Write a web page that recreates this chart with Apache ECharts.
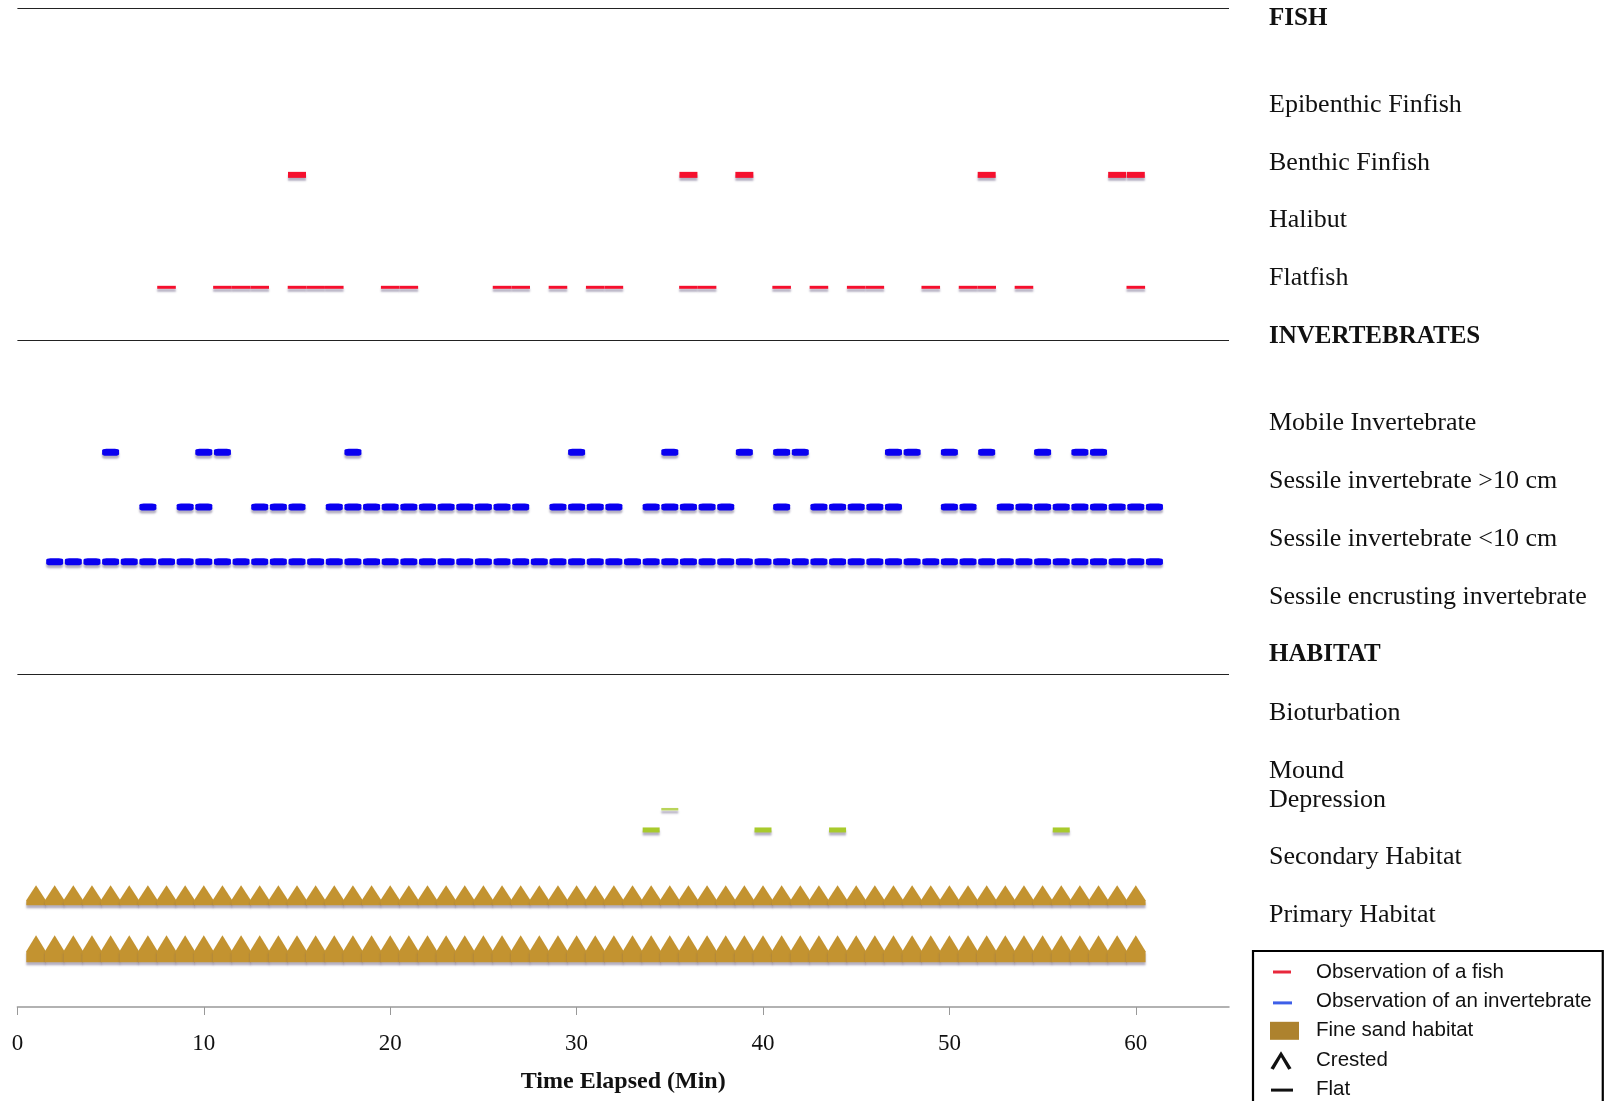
<!DOCTYPE html>
<html>
<head>
<meta charset="utf-8">
<script src="https://cdn.jsdelivr.net/npm/echarts@6/dist/echarts.min.js"></script>
<style>html,body{margin:0;padding:0;background:#fff;}#c{width:1606px;height:1101px;}</style>
</head>
<body>
<div id="c"></div>
<script>
// ---- data (minutes elapsed at which each observation was recorded) ----
const benthicFinfish = [15, 36, 39, 52, 59, 60];
const flatfish = [8, 11, 12, 13, 15, 16, 17, 20, 21, 26, 27, 29, 31, 32, 36, 37, 41, 43, 45, 46, 49, 51, 52, 54, 60];
const mobileInvertebrate = [5, 10, 11, 18, 30, 35, 39, 41, 42, 47, 48, 50, 52, 55, 57, 58];
const sessileOver10 = [7, 9, 10, 13, 14, 15, 17, 18, 19, 20, 21, 22, 23, 24, 25, 26, 27, 29, 30, 31, 32, 34, 35, 36, 37, 38, 41, 43, 44, 45, 46, 47, 50, 51, 53, 54, 55, 56, 57, 58, 59, 60, 61];
const sessileUnder10 = [2, 3, 4, 5, 6, 7, 8, 9, 10, 11, 12, 13, 14, 15, 16, 17, 18, 19, 20, 21, 22, 23, 24, 25, 26, 27, 28, 29, 30, 31, 32, 33, 34, 35, 36, 37, 38, 39, 40, 41, 42, 43, 44, 45, 46, 47, 48, 49, 50, 51, 52, 53, 54, 55, 56, 57, 58, 59, 60, 61];
const depressionUpper = [35];
const depressionLower = [34, 40, 44, 56];
const secondaryHabitat = [1, 2, 3, 4, 5, 6, 7, 8, 9, 10, 11, 12, 13, 14, 15, 16, 17, 18, 19, 20, 21, 22, 23, 24, 25, 26, 27, 28, 29, 30, 31, 32, 33, 34, 35, 36, 37, 38, 39, 40, 41, 42, 43, 44, 45, 46, 47, 48, 49, 50, 51, 52, 53, 54, 55, 56, 57, 58, 59, 60];
const primaryHabitat = [1, 2, 3, 4, 5, 6, 7, 8, 9, 10, 11, 12, 13, 14, 15, 16, 17, 18, 19, 20, 21, 22, 23, 24, 25, 26, 27, 28, 29, 30, 31, 32, 33, 34, 35, 36, 37, 38, 39, 40, 41, 42, 43, 44, 45, 46, 47, 48, 49, 50, 51, 52, 53, 54, 55, 56, 57, 58, 59, 60];

const rowLabels = ['FISH', 'Epibenthic Finfish', 'Benthic Finfish', 'Halibut', 'Flatfish',
  'INVERTEBRATES', 'Mobile Invertebrate', 'Sessile invertebrate >10 cm', 'Sessile invertebrate <10 cm', 'Sessile encrusting invertebrate',
  'HABITAT', 'Bioturbation', 'Mound', 'Depression', 'Secondary Habitat', 'Primary Habitat'];
const headerLabels = ['FISH', 'INVERTEBRATES', 'HABITAT'];
const xTickValues = [0, 10, 20, 30, 40, 50, 60];
const legendNames = ['Observation of a fish', 'Observation of an invertebrate', 'Fine sand habitat', 'Crested', 'Flat'];

// ---- layout (row positions on the hidden vertical scale, in row units) ----
const labelPos = [0.18, 1.68, 2.68, 3.68, 4.68, 5.7, 7.19, 8.2, 9.2, 10.21, 11.2, 12.23, 13.23, 13.73, 14.73, 15.73];
const sectionLines = [0, 5.75, 11.55];
const Y = { benthic: 2.89, flatfish: 4.84, mobile: 7.70, over10: 8.65, under10: 9.60,
  depU: 13.89, depL: 14.25, secondary: 15.38, primary: 16.31 };

const RED = '#F5102E', BLUE = '#0A00F0', BROWN = '#C39330', GREEN = '#A8CA2C';
const SERIF = "'Liberation Serif','Times New Roman',serif";
const shadow = { shadowColor: 'rgba(90,80,120,0.45)', shadowBlur: 2, shadowOffsetY: 3 };

function dashes(name, vals, y, color, size, symbol, extra) {
  return Object.assign({
    name: name, type: 'scatter', symbol: symbol || 'rect', symbolSize: size,
    data: vals.map(v => [v, y]), silent: true,
    itemStyle: Object.assign({ color: color, opacity: 1 }, shadow)
  }, extra || {});
}

const triUpper = 'path://M0,20 L0,15 L9.75,0 L19.5,15 L19.5,20 Z';
const triLower = 'path://M0,27 L0,16 L9.75,0 L19.5,16 L19.5,27 Z';
const BOX = 'M0,0 M41,22 ';

const series = [
  dashes('Observation of a fish', benthicFinfish, Y.benthic, RED, [18, 6]),
  dashes('Observation of a fish', flatfish, Y.flatfish, RED, [18.6, 3]),
  dashes('Observation of an invertebrate', mobileInvertebrate, Y.mobile, BLUE, [17, 7], 'roundRect'),
  dashes('Observation of an invertebrate', sessileOver10, Y.over10, BLUE, [17, 7], 'roundRect'),
  dashes('Observation of an invertebrate', sessileUnder10, Y.under10, BLUE, [17, 7], 'roundRect'),
  dashes('Depression', depressionUpper, Y.depU, '#B9D45A', [17, 2.5]),
  dashes('Depression', depressionLower, Y.depL, GREEN, [17, 5]),
  dashes('Fine sand habitat', secondaryHabitat, Y.secondary, BROWN, [19.5, 20], triUpper),
  dashes('Fine sand habitat', primaryHabitat, Y.primary, BROWN, [19.5, 27], triLower),
  { name: 'Crested', type: 'scatter', data: [], itemStyle: { color: '#000' } },
  { name: 'Flat', type: 'scatter', data: [], itemStyle: { color: '#000' },
    markLine: { silent: true, symbol: 'none', label: { show: false },
      lineStyle: { color: '#222', width: 1.2, type: 'solid' },
      data: sectionLines.map(v => ({ yAxis: v })) } }
];

const noShadow = { shadowColor: 'transparent', shadowBlur: 0, shadowOffsetY: 0 };
const legendIcons = [
  'path://' + BOX + 'M3,9.5 L21,9.5 L21,12.5 L3,12.5 Z',
  'path://' + BOX + 'M3,11 L22,11 L22,14 L3,14 Z',
  'path://' + BOX + 'M0,2 L29,2 L29,20 L0,20 Z',
  'path://' + BOX + 'M0.5,19 L11,2 L21.5,19 L18.3,20.5 L11,8 L3.7,20.5 Z',
  'path://' + BOX + 'M1,10 L23,10 L23,13 L1,13 Z'
];
const legendColors = ['#E8283C', '#3E5FE8', '#AD822E', '#111', '#111'];

const chart = echarts.init(document.getElementById('c'), null, { renderer: 'canvas' });
chart.setOption({
  animation: false,
  backgroundColor: '#fff',
  grid: { left: 17.4, right: 377, top: 8.2, bottom: 94, containLabel: false },
  xAxis: {
    type: 'value', min: 0, max: 65, interval: 10, position: 'bottom',
    name: 'Time Elapsed (Min)', nameLocation: 'middle', nameGap: 63,
    nameTextStyle: { fontFamily: SERIF, fontWeight: 'bold', fontSize: 24, color: '#111' },
    axisLine: { show: true, onZero: false, lineStyle: { color: '#999', width: 1.5 } },
    axisTick: { show: true, length: 8, customValues: xTickValues, lineStyle: { color: '#999', width: 1 } },
    axisLabel: { customValues: xTickValues, margin: 25, fontFamily: SERIF, fontSize: 23, color: '#111' },
    splitLine: { show: false }
  },
  yAxis: {
    type: 'value', position: 'right', inverse: true, min: 0, max: 17.32,
    axisLine: { show: false }, axisTick: { show: false }, splitLine: { show: false },
    axisLabel: {
      customValues: labelPos, margin: 40, align: 'left',
      formatter: function (v) {
        let idx = 0;
        for (let i = 0; i < labelPos.length; i++) if (Math.abs(labelPos[i] - v) < 1e-6) idx = i;
        const t = rowLabels[idx];
        return headerLabels.indexOf(t) >= 0 ? '{h|' + t + '}' : '{n|' + t + '}';
      },
      rich: {
        h: { fontFamily: SERIF, fontWeight: 'bold', fontSize: 25, color: '#111' },
        n: { fontFamily: SERIF, fontSize: 26, color: '#111' }
      }
    }
  },
  legend: {
    orient: 'vertical', left: 1253, top: 951, height: 150,
    padding: [10, 11, 14, 17], itemWidth: 41, itemHeight: 22, itemGap: 7.4,
    backgroundColor: '#fff', borderColor: '#000', borderWidth: 2.2, borderRadius: 0,
    selectedMode: false,
    textStyle: { fontFamily: "'Liberation Sans',Arial,sans-serif", fontSize: 20.5, lineHeight: 22, color: '#111' },
    data: legendNames.map((n, i) => ({ name: n, icon: legendIcons[i],
      itemStyle: Object.assign({ color: legendColors[i], borderWidth: 0, opacity: 1 }, noShadow) }))
  },
  series: series
});
</script>
</body>
</html>
